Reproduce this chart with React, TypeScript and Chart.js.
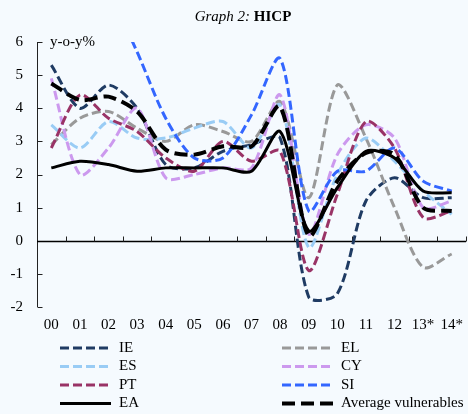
import React, { useEffect, useRef } from "react";
import { Chart, registerables } from "chart.js";

Chart.register(...registerables);

const categories = ["00", "01", "02", "03", "04", "05", "06", "07", "08", "09", "10", "11", "12", "13*", "14*"];
const yTicks = [-2, -1, 0, 1, 2, 3, 4, 5, 6];

const IE = [5.3, 4.0, 4.7, 4.0, 2.3, 2.2, 2.7, 2.9, 3.1, -1.7, -1.6, 1.2, 1.9, 1.3, 1.3];
const EL = [2.9, 3.7, 3.9, 3.4, 3.0, 3.5, 3.3, 3.0, 4.2, 1.3, 4.7, 3.1, 1.0, -0.8, -0.4];
const ES = [3.5, 2.8, 3.6, 3.1, 3.1, 3.4, 3.6, 2.8, 4.1, -0.2, 2.0, 3.1, 2.4, 1.5, 0.8];
const CY = [4.9, 2.0, 2.8, 4.0, 1.9, 2.0, 2.2, 2.2, 4.4, 0.2, 2.6, 3.5, 3.1, 1.0, 1.2];
const PT = [2.8, 4.4, 3.7, 3.3, 2.5, 2.1, 3.0, 2.4, 2.7, -0.9, 1.4, 3.6, 2.8, 0.7, 0.9];
const SI = [8.9, 8.6, 7.5, 5.7, 3.7, 2.5, 2.5, 3.8, 5.5, 0.9, 2.1, 2.1, 2.8, 1.8, 1.5];
const EA = [2.2, 2.4, 2.3, 2.1, 2.2, 2.2, 2.2, 2.1, 3.3, 0.3, 1.6, 2.7, 2.5, 1.5, 1.45];
const AVG = [4.75, 4.25, 4.35, 3.9, 2.75, 2.6, 2.85, 2.85, 4.05, 0.15, 1.8, 2.65, 2.6, 1.0, 0.9];

const SERIF = '"Liberation Serif", "Times New Roman", serif';
const BG = "#F5FAFE";

const seriesDefs = [
  { label: "IE", data: IE, color: "#1F3B63", width: 3, dash: [9, 4] },
  { label: "EL", data: EL, color: "#999999", width: 3, dash: [9, 4] },
  { label: "ES", data: ES, color: "#99CCF5", width: 3, dash: [9, 4] },
  { label: "CY", data: CY, color: "#CC99EE", width: 3, dash: [9, 4] },
  { label: "PT", data: PT, color: "#993366", width: 3, dash: [9, 4] },
  { label: "SI", data: SI, color: "#3366FF", width: 3, dash: [9, 4] },
  { label: "EA", data: EA, color: "#000000", width: 3, dash: [] as number[] },
  { label: "Average vulnerables", data: AVG, color: "#000000", width: 4, dash: [13, 6] },
];

const decorPlugin = {
  id: "decor",
  beforeDraw(chart: any) {
    const ctx = chart.ctx;
    ctx.save();
    ctx.fillStyle = BG;
    ctx.fillRect(0, 0, chart.width, chart.height);
    ctx.restore();
  },
  beforeDatasetsDraw(chart: any) {
    const ctx = chart.ctx;
    const xs = chart.scales.x;
    const ys = chart.scales.y;
    const a = chart.chartArea;
    ctx.save();
    ctx.strokeStyle = "#222";
    ctx.lineWidth = 1;
    const ax = Math.round(a.left) + 0.5;
    ctx.beginPath();
    ctx.moveTo(ax, ys.getPixelForValue(6));
    ctx.lineTo(ax, ys.getPixelForValue(-2));
    ctx.stroke();
    yTicks.forEach((t) => {
      const y = Math.round(ys.getPixelForValue(t)) + 0.5;
      ctx.beginPath();
      ctx.moveTo(ax, y);
      ctx.lineTo(ax + 5, y);
      ctx.stroke();
    });
    const y0 = Math.round(ys.getPixelForValue(0)) + 0.5;
    ctx.lineWidth = 1.5;
    ctx.strokeStyle = "#000";
    ctx.beginPath();
    ctx.moveTo(a.left, y0);
    ctx.lineTo(a.right, y0);
    ctx.stroke();
    ctx.lineWidth = 1;
    ctx.strokeStyle = "#222";
    for (let i = 1; i <= categories.length; i++) {
      let bx: number;
      if (i < categories.length) {
        bx = (xs.getPixelForValue(i - 1) + xs.getPixelForValue(i)) / 2;
      } else {
        bx = a.right;
      }
      bx = Math.round(bx) + 0.5;
      ctx.beginPath();
      ctx.moveTo(bx, y0);
      ctx.lineTo(bx, y0 - 5);
      ctx.stroke();
    }
    ctx.restore();
  },
  afterDraw(chart: any) {
    const ctx = chart.ctx;
    const xs = chart.scales.x;
    const ys = chart.scales.y;
    const a = chart.chartArea;
    ctx.save();
    ctx.fillStyle = "#000";
    ctx.font = `15px ${SERIF}`;
    ctx.textAlign = "right";
    ctx.textBaseline = "middle";
    yTicks.forEach((t) => {
      ctx.fillText(String(t), a.left - 14, ys.getPixelForValue(t));
    });
    ctx.textAlign = "left";
    ctx.fillText("y-o-y%", a.left + 13, ys.getPixelForValue(6));
    ctx.textAlign = "center";
    categories.forEach((c, i) => {
      ctx.fillText(c, xs.getPixelForValue(i), 325);
    });
    ctx.textAlign = "left";
    const p1 = "Graph 2: ";
    const p2 = "HICP";
    ctx.font = `italic 15px ${SERIF}`;
    const w1 = ctx.measureText(p1).width;
    ctx.font = `bold 15px ${SERIF}`;
    const w2 = ctx.measureText(p2).width;
    const sx = 243 - (w1 + w2) / 2;
    ctx.font = `italic 15px ${SERIF}`;
    ctx.fillText(p1, sx, 17);
    ctx.font = `bold 15px ${SERIF}`;
    ctx.fillText(p2, sx + w1, 17);
    ctx.font = `15px ${SERIF}`;
    const cols = [
      { x0: 60, x1: 111, tx: 119 },
      { x0: 282, x1: 333, tx: 341 },
    ];
    const rowY = [348, 366.5, 385, 403.5];
    chart.data.datasets.forEach((ds: any, i: number) => {
      const col = cols[i % 2];
      const y = rowY[Math.floor(i / 2)];
      ctx.save();
      ctx.strokeStyle = ds.borderColor;
      ctx.lineWidth = ds.borderWidth;
      ctx.setLineDash(ds.borderDash || []);
      ctx.beginPath();
      ctx.moveTo(col.x0, y);
      ctx.lineTo(col.x1, y);
      ctx.stroke();
      ctx.restore();
      ctx.fillStyle = "#000";
      ctx.textAlign = "left";
      ctx.textBaseline = "middle";
      ctx.fillText(ds.label, col.tx, y);
    });
    ctx.restore();
  },
};

export default function App() {
  const ref = useRef<HTMLCanvasElement | null>(null);
  useEffect(() => {
    document.body.style.margin = "0";
    const canvas = ref.current;
    if (!canvas) return;
    const chart = new Chart(canvas, {
      type: "line",
      data: {
        labels: categories,
        datasets: seriesDefs.map((s, i) => ({
          label: s.label,
          data: s.data,
          borderColor: s.color,
          backgroundColor: s.color,
          borderWidth: s.width,
          borderDash: s.dash,
          pointRadius: 0,
          pointHoverRadius: 0,
          tension: 0.28,
          fill: false,
          order: seriesDefs.length - i,
        })),
      },
      options: {
        responsive: false,
        animation: false,
        devicePixelRatio: 1,
        layout: { padding: { left: 37, right: 2, top: 42, bottom: 107 } },
        plugins: {
          legend: { display: false },
          title: { display: false },
          tooltip: { enabled: false },
        },
        scales: {
          x: { type: "category", offset: true, display: false },
          y: { type: "linear", min: -2, max: 6, display: false },
        },
      },
      plugins: [decorPlugin],
    });
    return () => chart.destroy();
  }, []);
  return (
    <div style={{ width: 468, height: 414 }}>
      <canvas ref={ref} width={468} height={414} style={{ display: "block" }} />
    </div>
  );
}
